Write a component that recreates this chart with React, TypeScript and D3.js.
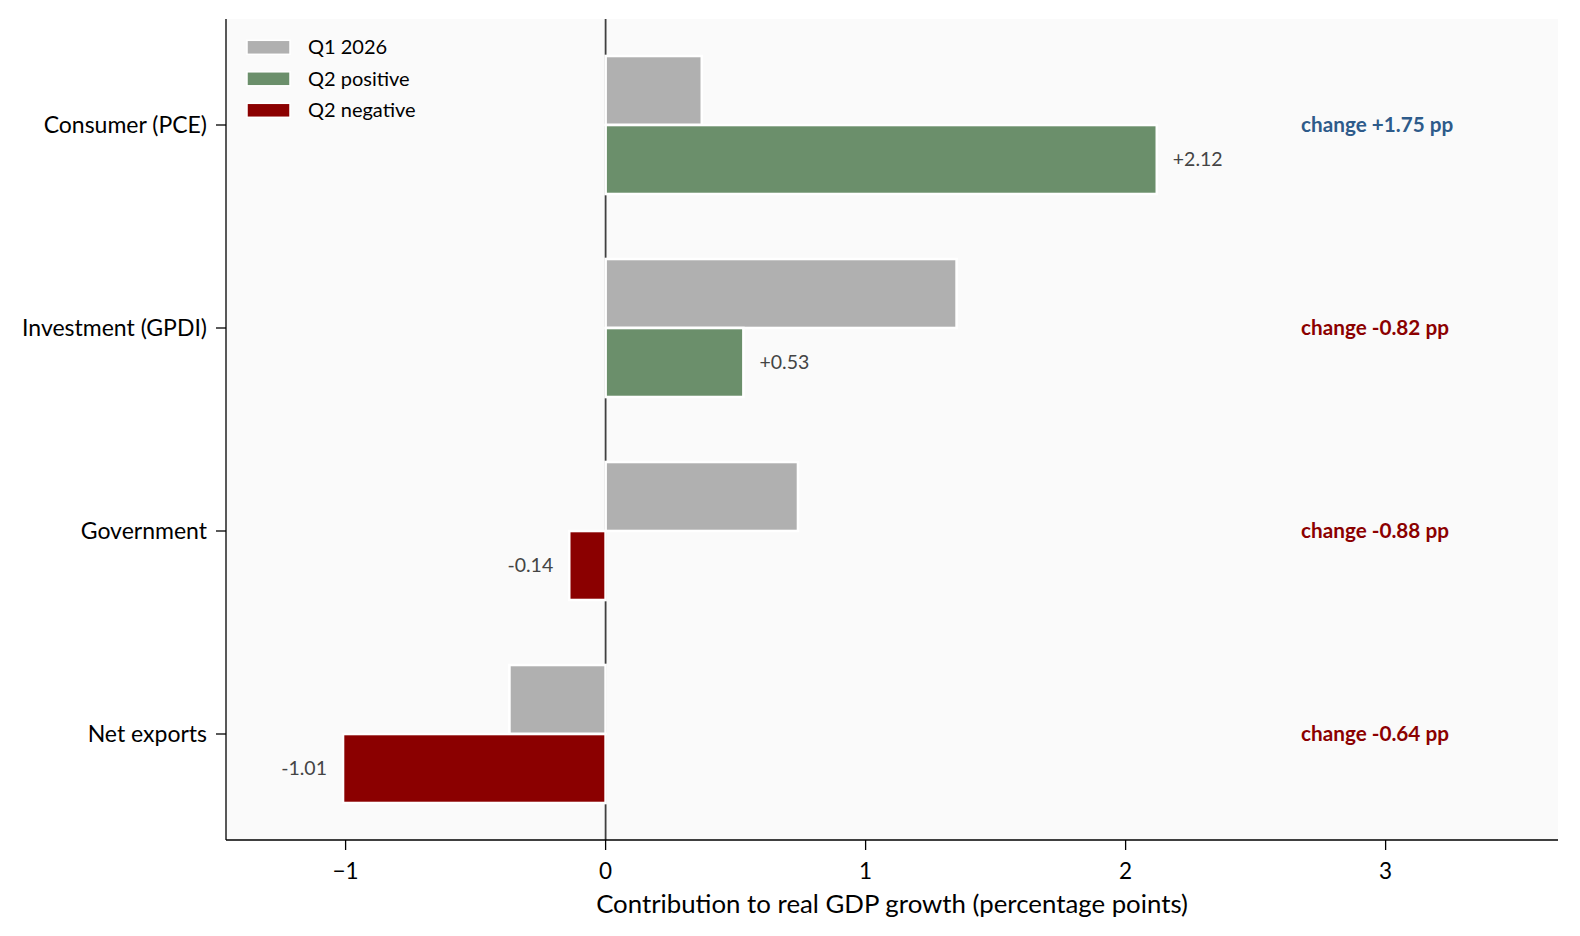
import React from "react";
import * as d3 from "d3";

const categories = ["Consumer (PCE)", "Investment (GPDI)", "Government", "Net exports"];
const q1Values = [0.37, 1.35, 0.74, -0.37];
const q2Values = [2.12, 0.53, -0.14, -1.01];
const xTicks = [-1, 0, 1, 2, 3];
const legendLabels = ["Q1 2026", "Q2 positive", "Q2 negative"];
const xDomain = [-1.46, 3.663];
const axisLabel = "Contribution to real GDP growth (percentage points)";

const W = 1580;
const H = 936;
const left = 226;
const right = 1558;
const top = 19;
const bottom = 840;

const GRAY = "#b0b0b0";
const GREEN = "#6b8f6b";
const RED = "#8b0000";
const BLUE = "#2e5b8a";
const FONT = "Lato, 'Noto Sans', sans-serif";

const fmtSigned = (v: number) => (v >= 0 ? "+" : "-") + Math.abs(v).toFixed(2);
const fmtTick = (v: number) => (v < 0 ? "\u2212" : "") + Math.abs(v).toString();

export default function App() {
  const x = d3.scaleLinear().domain(xDomain).range([left, right]);
  const step = 203;
  const y = d3
    .scalePoint<string>()
    .domain(categories)
    .range([125, 125 + step * (categories.length - 1)]);
  const barH = 0.34 * step;
  const off = 0.17 * step;

  return (
    <svg
      width={W}
      height={H}
      style={{ position: "absolute", left: 0, top: 0, background: "#ffffff" }}
      fontFamily={FONT}
    >
      <rect x={0} y={0} width={W} height={H} fill="#ffffff" />
      <rect x={left} y={top} width={right - left} height={bottom - top} fill="#fafafa" />

      {/* zero line */}
      <line x1={x(0)} x2={x(0)} y1={top} y2={bottom} stroke="#404040" strokeWidth={1.8} />

      {/* bars */}
      {categories.map((c, i) => {
        const cy = y(c)!;
        const v1 = q1Values[i];
        const v2 = q2Values[i];
        const x1a = Math.min(x(0), x(v1));
        const x2a = Math.min(x(0), x(v2));
        return (
          <g key={c}>
            <rect
              x={x1a}
              y={cy - off - barH / 2}
              width={Math.abs(x(v1) - x(0))}
              height={barH}
              fill={GRAY}
              stroke="#ffffff"
              strokeWidth={2.6}
            />
            <rect
              x={x2a}
              y={cy + off - barH / 2}
              width={Math.abs(x(v2) - x(0))}
              height={barH}
              fill={v2 >= 0 ? GREEN : RED}
              stroke="#ffffff"
              strokeWidth={2.6}
            />
            <text
              x={v2 >= 0 ? x(v2) + 16 : x(v2) - 16}
              y={cy + off}
              dy="0.35em"
              textAnchor={v2 >= 0 ? "start" : "end"}
              fontSize={19.5}
              fill="#444444"
            >
              {fmtSigned(v2)}
            </text>
            <text
              x={x(2.675)}
              y={cy}
              dy="0.35em"
              fontSize={20.7}
              fontWeight="bold"
              fill={v2 - v1 >= 0 ? BLUE : RED}
            >
              {"change " + fmtSigned(v2 - v1) + " pp"}
            </text>
          </g>
        );
      })}

      {/* spines */}
      <line x1={left} x2={left} y1={top} y2={bottom} stroke="#000" strokeWidth={1.3} />
      <line x1={left} x2={right} y1={bottom} y2={bottom} stroke="#000" strokeWidth={1.3} />

      {/* y ticks */}
      {categories.map((c) => (
        <g key={"yt" + c}>
          <line x1={left - 10} x2={left} y1={y(c)!} y2={y(c)!} stroke="#000" strokeWidth={1.3} />
          <text x={left - 19} y={y(c)!} dy="0.35em" textAnchor="end" fontSize={23} fill="#000">
            {c}
          </text>
        </g>
      ))}

      {/* x ticks */}
      {xTicks.map((t) => (
        <g key={"xt" + t}>
          <line x1={x(t)} x2={x(t)} y1={bottom} y2={bottom + 10} stroke="#000" strokeWidth={1.3} />
          <text x={x(t)} y={879} textAnchor="middle" fontSize={22.5} fill="#000">
            {fmtTick(t)}
          </text>
        </g>
      ))}

      <text x={(left + right) / 2} y={913} textAnchor="middle" fontSize={25.8} fill="#000">
        {axisLabel}
      </text>

      {/* legend */}
      {legendLabels.map((l, i) => {
        const cy = 47.3 + i * 31.5;
        const col = i === 0 ? GRAY : i === 1 ? GREEN : RED;
        return (
          <g key={l}>
            <rect x={247} y={cy - 7} width={43} height={14} fill={col} stroke="#ffffff" strokeWidth={1.5} />
            <text x={308} y={cy} dy="0.35em" fontSize={20} fill="#000">
              {l}
            </text>
          </g>
        );
      })}
    </svg>
  );
}
